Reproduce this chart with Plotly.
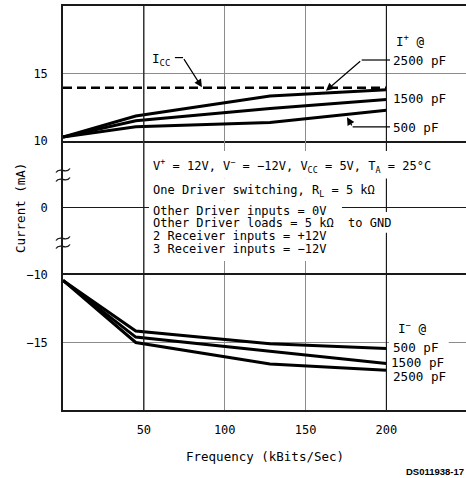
import plotly.graph_objects as go

# ---- data -------------------------------------------------------------
freq = [0, 45, 128, 200]                      # kBits/Sec
i_plus_2500 = [10.3, 11.85, 13.33, 13.8]      # mA
i_plus_1500 = [10.3, 11.5, 12.4, 13.07]
i_plus_500 = [10.3, 11.05, 11.37, 12.28]
icc_freq = [0, 200]
icc = [13.95, 13.95]
i_minus_500 = [-10.4, -14.15, -15.1, -15.45]
i_minus_1500 = [-10.4, -14.6, -15.65, -16.55]
i_minus_2500 = [-10.4, -15.0, -16.6, -17.05]

x_ticks = [50, 100, 150, 200]
x_tick_text = ["50", "100", "150", "200"]
top_ticks = [10, 15]
top_tick_text = ["10", "15"]
mid_ticks = [0]
mid_tick_text = ["0"]
bot_ticks = [-15, -10]
bot_tick_text = ["\u221215", "\u221210"]

conditions = [
    "V<sup>+</sup> = 12V, V<sup>\u2212</sup> = \u221212V, V<sub>CC</sub> = 5V, T<sub>A</sub> = 25\u00b0C",
    "One Driver switching, R<sub>L</sub> = 5 k\u03a9",
    "Other Driver inputs = 0V",
    "Other Driver loads = 5 k\u03a9  to GND",
    "2 Receiver inputs = +12V",
    "3 Receiver inputs = \u221212V",
]
condition_y = [0.62, 0.25, -0.04, -0.22, -0.42, -0.61]
# white panels behind each condition line: (x0, x1, y0, y1) in middle-panel units
condition_bg = [
    (53.2, 240.5, 0.85, 0.44),
    (53.2, 196.6, 0.44, 0.11),
    (53.2, 172.5, 0.11, -0.06),
    (53.2, 204.6, -0.06, -0.37),
    (53.2, 168.2, -0.37, -0.53),
    (53.2, 168.2, -0.53, -0.79),
]

# ---- style ------------------------------------------------------------
W, H = 466, 478
ML, MR, MT, MB = 63, 0, 6, 68
DARK = "#1a1a1a"
GRAY = "#8c8c8c"
FONT = "DejaVu Sans Mono"
X_RANGE = [0, 249.2]
TOP_DOM = [0.6658, 1.0]
MID_DOM = [0.3342, 0.6658]
BOT_DOM = [0.0, 0.3342]

fig = go.Figure()

line_style = dict(color="black", width=3)
for ys in (i_plus_2500, i_plus_1500, i_plus_500):
    fig.add_trace(go.Scatter(x=freq, y=ys, mode="lines", line=line_style,
                             xaxis="x", yaxis="y", showlegend=False, hoverinfo="skip"))
fig.add_trace(go.Scatter(x=icc_freq, y=icc, mode="lines",
                         line=dict(color="black", width=2.6, dash="9px,5px"),
                         xaxis="x", yaxis="y", showlegend=False, hoverinfo="skip"))
for ys in (i_minus_500, i_minus_1500, i_minus_2500):
    fig.add_trace(go.Scatter(x=freq, y=ys, mode="lines", line=line_style,
                             xaxis="x3", yaxis="y3", showlegend=False, hoverinfo="skip"))

tick_font = dict(family=FONT, size=12, color="black")

def x_axis(anchor, labels, line):
    return dict(anchor=anchor, domain=[0, 1], range=X_RANGE, tickmode="array",
                tickvals=x_ticks, ticktext=x_tick_text, showticklabels=labels,
                showgrid=True, gridcolor=GRAY, gridwidth=1, zeroline=False,
                showline=line, mirror=line, linecolor=DARK, linewidth=1.5,
                ticks="", tickfont=tick_font, ticklabelstandoff=8)

def y_axis(anchor, dom, rng, vals, text):
    return dict(anchor=anchor, domain=dom, range=rng, tickmode="array",
                tickvals=vals, ticktext=text, showgrid=True, gridcolor=GRAY,
                gridwidth=1, zeroline=False, showline=True, linecolor=DARK,
                linewidth=1.5, ticks="", tickfont=tick_font, ticklabelstandoff=11)

fig.update_layout(
    width=W, height=H,
    margin=dict(l=ML, r=MR, t=MT, b=MB, pad=0),
    paper_bgcolor="white", plot_bgcolor="white",
    font=dict(family=FONT, size=12, color="black"),
    xaxis=x_axis("y", False, True),
    xaxis2=dict(x_axis("y2", False, False), matches="x3"),
    xaxis3=x_axis("y3", True, True),
    yaxis=y_axis("x", TOP_DOM, [10, 20], top_ticks, top_tick_text),
    yaxis2=dict(y_axis("x2", MID_DOM, [-1, 1], mid_ticks, mid_tick_text),
                showgrid=False, zeroline=True, zerolinecolor=DARK, zerolinewidth=1.2),
    yaxis3=y_axis("x3", BOT_DOM, [-20, -10], bot_ticks, bot_tick_text),
)
fig.layout.xaxis.matches = "x3"

# darker grid lines at 50 and 200 through every panel
shapes = []
for xr, yr in (("x", "y"), ("x2", "y2"), ("x3", "y3")):
    for v in (50, 200):
        shapes.append(dict(type="line", xref=xr, yref=yr + " domain", x0=v, x1=v,
                           y0=0, y1=1, line=dict(color=DARK, width=1.2)))

# white panels under the condition text and the lower "500 pF" label
for x0, x1, y0, y1 in condition_bg:
    shapes.append(dict(type="rect", xref="x2", yref="y2", x0=x0, x1=x1, y0=y0, y1=y1,
                       fillcolor="white", line=dict(width=0)))
shapes.append(dict(type="rect", xref="x3", yref="y3", x0=201.6, x1=238.5, y0=-14.75, y1=-15.25,
                   fillcolor="white", line=dict(width=0)))

# leader lines (horizontal legs)
lead = dict(color="black", width=1.2)
shapes.append(dict(type="line", xref="x", yref="y", x0=69.2, x1=74.2, y0=16.18, y1=16.18, line=lead))
shapes.append(dict(type="line", xref="x", yref="y", x0=184.7, x1=202.2, y0=16.0, y1=16.0, line=lead))
shapes.append(dict(type="line", xref="x", yref="y", x0=179.1, x1=202.2, y0=11.05, y1=11.05, line=lead))

# axis-break marks on the current axis
def px_to_paper(px, py):
    return (px - ML) / (W - ML - MR), (H - MB - py) / (H - MT - MB)

def tilde(cy):
    pts = [(56, cy + 2), (60, cy - 4.5), (66, cy + 4.5), (70, cy - 2)]
    p = [px_to_paper(a, b) for a, b in pts]
    return "M {:.5f},{:.5f} C {:.5f},{:.5f} {:.5f},{:.5f} {:.5f},{:.5f}".format(
        p[0][0], p[0][1], p[1][0], p[1][1], p[2][0], p[2][1], p[3][0], p[3][1])

for cy in (170.5, 179.5, 238.5, 246.5):
    shapes.append(dict(type="path", xref="paper", yref="paper", path=tilde(cy),
                       line=dict(color=DARK, width=1.4)))
fig.update_layout(shapes=shapes)

ann = []
# condition block
for txt, yv in zip(conditions, condition_y):
    ann.append(dict(x=53.3, y=yv, xref="x2", yref="y2", text=txt, showarrow=False,
                    xanchor="left", yanchor="middle", align="left", borderpad=3,
                    font=dict(family=FONT, size=12, color="black")))

lab_font = dict(family=FONT, size=12.6, color="black")

def label(text, y, yref, xref, shift):
    return dict(x=200, y=y, xref=xref, yref=yref, text=text, showarrow=False,
                xanchor="left", yanchor="middle", xshift=shift, font=lab_font, borderpad=1)

ann += [
    dict(x=53.8, y=16.05, xref="x", yref="y", text="I<sub>CC</sub>", showarrow=False,
         xanchor="left", yanchor="middle", font=lab_font),
    label("I<sup>+</sup> @", 17.43, "y", "x", 8),
    label("2500 pF", 15.96, "y", "x", 5),
    label("1500 pF", 13.16, "y", "x", 5),
    label("500 pF", 11.03, "y", "x", 5),
    label("I<sup>\u2212</sup> @", -13.91, "y3", "x3", 10),
    label("500 pF", -15.39, "y3", "x3", 5),
    label("1500 pF", -16.5, "y3", "x3", 3),
    label("2500 pF", -17.53, "y3", "x3", 5),
]

arrow = dict(showarrow=True, text="", arrowhead=2, arrowsize=1.3, arrowwidth=1.2,
             arrowcolor="black", standoff=0, startstandoff=0, axref="x", ayref="y",
             xref="x", yref="y")
ann += [
    dict(arrow, x=85.9, y=13.98, ax=74.2, ay=16.18),
    dict(arrow, x=162.6, y=13.72, ax=184.7, ay=16.0),
    dict(arrow, x=175.6, y=11.76, ax=179.1, ay=11.05),
]

# axis titles and document code
ann += [
    dict(x=0.5, y=px_to_paper(0, 456)[1], xref="paper", yref="paper",
         text="Frequency (kBits/Sec)", showarrow=False, xanchor="center", yanchor="middle",
         font=dict(family=FONT, size=12.5, color="black")),
    dict(x=px_to_paper(20, 0)[0], y=0.5, xref="paper", yref="paper", text="Current (mA)",
         textangle=-90, showarrow=False, xanchor="center", yanchor="middle",
         font=dict(family=FONT, size=12.5, color="black")),
    dict(x=1.0, y=px_to_paper(0, 472)[1], xref="paper", yref="paper", text="<b>DS011938-17</b>",
         showarrow=False, xanchor="right", yanchor="middle",
         font=dict(family="Liberation Sans", size=9.5, color="black")),
]
fig.update_layout(annotations=ann)

fig.write_html("out.html")
